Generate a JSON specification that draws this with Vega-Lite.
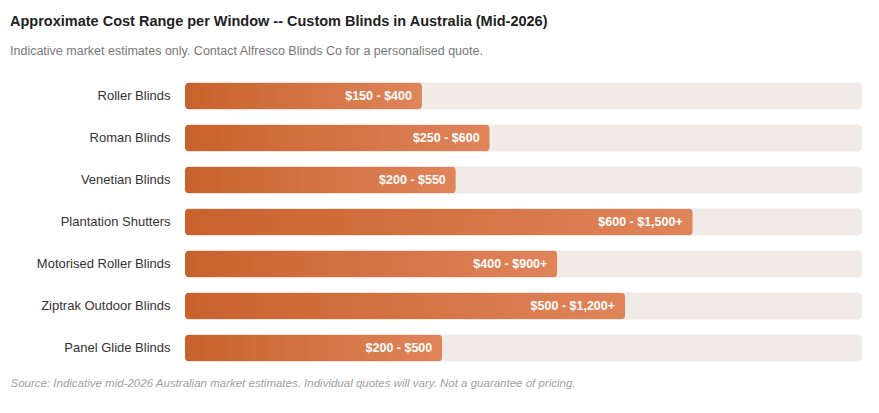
{
  "$schema": "https://vega.github.io/schema/vega-lite/v6.json",
  "width": 677,
  "height": 294,
  "padding": {"left": 10, "top": 14, "right": 17, "bottom": 10},
  "background": "#ffffff",
  "title": {
    "text": "Approximate Cost Range per Window -- Custom Blinds in Australia (Mid-2026)",
    "subtitle": "Indicative market estimates only. Contact Alfresco Blinds Co for a personalised quote.",
    "anchor": "start",
    "frame": "bounds",
    "font": "Liberation Sans",
    "fontSize": 14.5,
    "fontWeight": "bold",
    "color": "#222222",
    "subtitleFont": "Liberation Sans",
    "subtitleFontSize": 12.5,
    "subtitleColor": "#777777",
    "subtitlePadding": 15,
    "offset": 17
  },
  "data": {
    "values": [
      {"type": "Roller Blinds", "pct": 35, "label": "$150 - $400"},
      {"type": "Roman Blinds", "pct": 45, "label": "$250 - $600"},
      {"type": "Venetian Blinds", "pct": 40, "label": "$200 - $550"},
      {"type": "Plantation Shutters", "pct": 75, "label": "$600 - $1,500+"},
      {"type": "Motorised Roller Blinds", "pct": 55, "label": "$400 - $900+"},
      {"type": "Ziptrak Outdoor Blinds", "pct": 65, "label": "$500 - $1,200+"},
      {"type": "Panel Glide Blinds", "pct": 38, "label": "$200 - $500"}
    ]
  },
  "encoding": {
    "y": {
      "field": "type",
      "type": "nominal",
      "sort": null,
      "title": null,
      "scale": {"paddingInner": 0.357, "paddingOuter": 0.18},
      "axis": {
        "domain": false,
        "ticks": false,
        "labelPadding": 15,
        "labelFont": "Liberation Sans",
        "labelFontSize": 13,
        "labelColor": "#333333",
        "labelLimit": 200,
        "minExtent": 175,
        "maxExtent": 175
      }
    }
  },
  "layer": [
    {
      "mark": {"type": "bar", "color": "#F0EBE7", "cornerRadius": 4},
      "encoding": {
        "x": {
          "datum": 100,
          "type": "quantitative",
          "scale": {"domain": [0, 100]},
          "title": "Source: Indicative mid-2026 Australian market estimates. Individual quotes will vary. Not a guarantee of pricing.",
          "axis": {
            "labels": false,
            "ticks": false,
            "domain": false,
            "grid": false,
            "titleAnchor": "start",
            "titleAlign": "left",
            "titleX": -175,
            "titleY": 8,
            "titleFont": "Liberation Sans",
            "titleFontSize": 11.5,
            "titleFontStyle": "italic",
            "titleFontWeight": "normal",
            "titleColor": "#A0A0A0"
          }
        }
      }
    },
    {
      "mark": {
        "type": "bar",
        "cornerRadius": 4,
        "color": {
          "gradient": "linear",
          "x1": 0, "y1": 0, "x2": 1, "y2": 0,
          "stops": [
            {"offset": 0, "color": "#C8622D"},
            {"offset": 1, "color": "#E0845A"}
          ]
        }
      },
      "encoding": {
        "x": {
          "field": "pct",
          "type": "quantitative",
          "title": "Source: Indicative mid-2026 Australian market estimates. Individual quotes will vary. Not a guarantee of pricing."
        }
      }
    },
    {
      "mark": {
        "type": "text",
        "align": "right",
        "dx": -10,
        "font": "Liberation Sans",
        "fontSize": 12.5,
        "fontWeight": "bold",
        "color": "#ffffff"
      },
      "encoding": {
        "x": {
          "field": "pct",
          "type": "quantitative",
          "title": "Source: Indicative mid-2026 Australian market estimates. Individual quotes will vary. Not a guarantee of pricing."
        },
        "text": {"field": "label"}
      }
    }
  ],
  "config": {
    "view": {"stroke": null}
  }
}
